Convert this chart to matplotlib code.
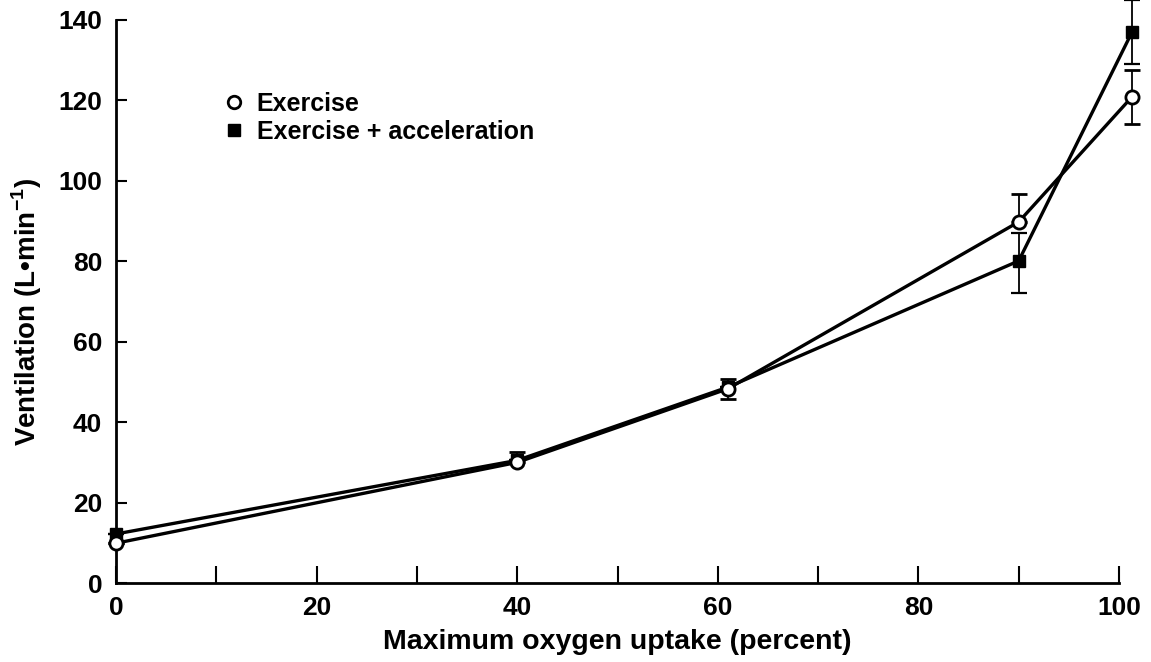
import numpy as np
import matplotlib.pyplot as plt
from matplotlib.lines import Line2D

# valores
vo2 = [0, 40, 61, 90, 101.3]
ex = [9.9, 30.0, 48.3, 89.8, 120.9]
ex_err_lo = [0, 0, 2.5, 0, 6.7]
ex_err_hi = [0, 2.6, 2.5, 7.0, 6.7]
acc = [12.2, 30.5, 48.7, 80.1, 137.0]
acc_err_lo = [0, 0, 0, 8.0, 8.0]
acc_err_hi = [0, 0, 0, 7.0, 7.9]

plt.rcParams['font.family'] = ['Liberation Sans', 'DejaVu Sans']
plt.rcParams['font.weight'] = 'bold'
plt.rcParams['mathtext.fontset'] = 'custom'
plt.rcParams['mathtext.rm'] = 'Liberation Sans:bold'
plt.rcParams['mathtext.bf'] = 'Liberation Sans:bold'

fig = plt.figure(figsize=(11.51, 6.62), dpi=100)
ax = fig.add_axes([0.1008, 0.1193, 0.8714, 0.8505])

ax.errorbar(vo2, ex, yerr=[ex_err_lo, ex_err_hi], color='black', lw=2.4,
            marker='o', ms=9.5, mfc='white', mec='black', mew=2,
            ecolor='black', elinewidth=1.3, capsize=5.5, capthick=1.6,
            zorder=3, clip_on=False)
ax.errorbar(vo2, acc, yerr=[acc_err_lo, acc_err_hi], color='black', lw=2.4,
            marker='s', ms=8.5, mfc='black', mec='black',
            ecolor='black', elinewidth=1.3, capsize=5.5, capthick=1.6,
            zorder=2, clip_on=False)

ax.set_xlim(0, 100)
ax.set_ylim(0, 140)
ax.set_xticks(np.arange(0, 101, 20))
ax.set_xticks(np.arange(0, 101, 10), minor=True)
ax.set_yticks(np.arange(0, 141, 20))
ax.tick_params(axis='x', which='both', direction='in', length=12.5, width=1.5,
               labelsize=19, pad=9)
ax.tick_params(axis='y', direction='in', length=8, width=1.5, labelsize=19, pad=10)
for s in ['top', 'right']:
    ax.spines[s].set_visible(False)
for s in ['left', 'bottom']:
    ax.spines[s].set_linewidth(2)

ax.set_xlabel('Maximum oxygen uptake (percent)', fontsize=20.5, fontweight='bold', labelpad=7)
ax.set_ylabel('Ventilation (L\u2022min$^{\\mathbf{-1}}$)', fontsize=20, fontweight='bold')
ax.yaxis.set_label_coords(-0.072, 0.481)

handles = [Line2D([], [], ls='none', marker='o', ms=9, mfc='white', mec='black', mew=2),
           Line2D([], [], ls='none', marker='s', ms=9, mfc='black', mec='black')]
ax.legend(handles, ['Exercise', 'Exercise + acceleration'], loc='upper left',
          bbox_to_anchor=(0.088, 0.912), frameon=False, fontsize=18,
          handlelength=0.6, handletextpad=0.6, labelspacing=0.15)

fig.savefig('out.png', dpi=100)
